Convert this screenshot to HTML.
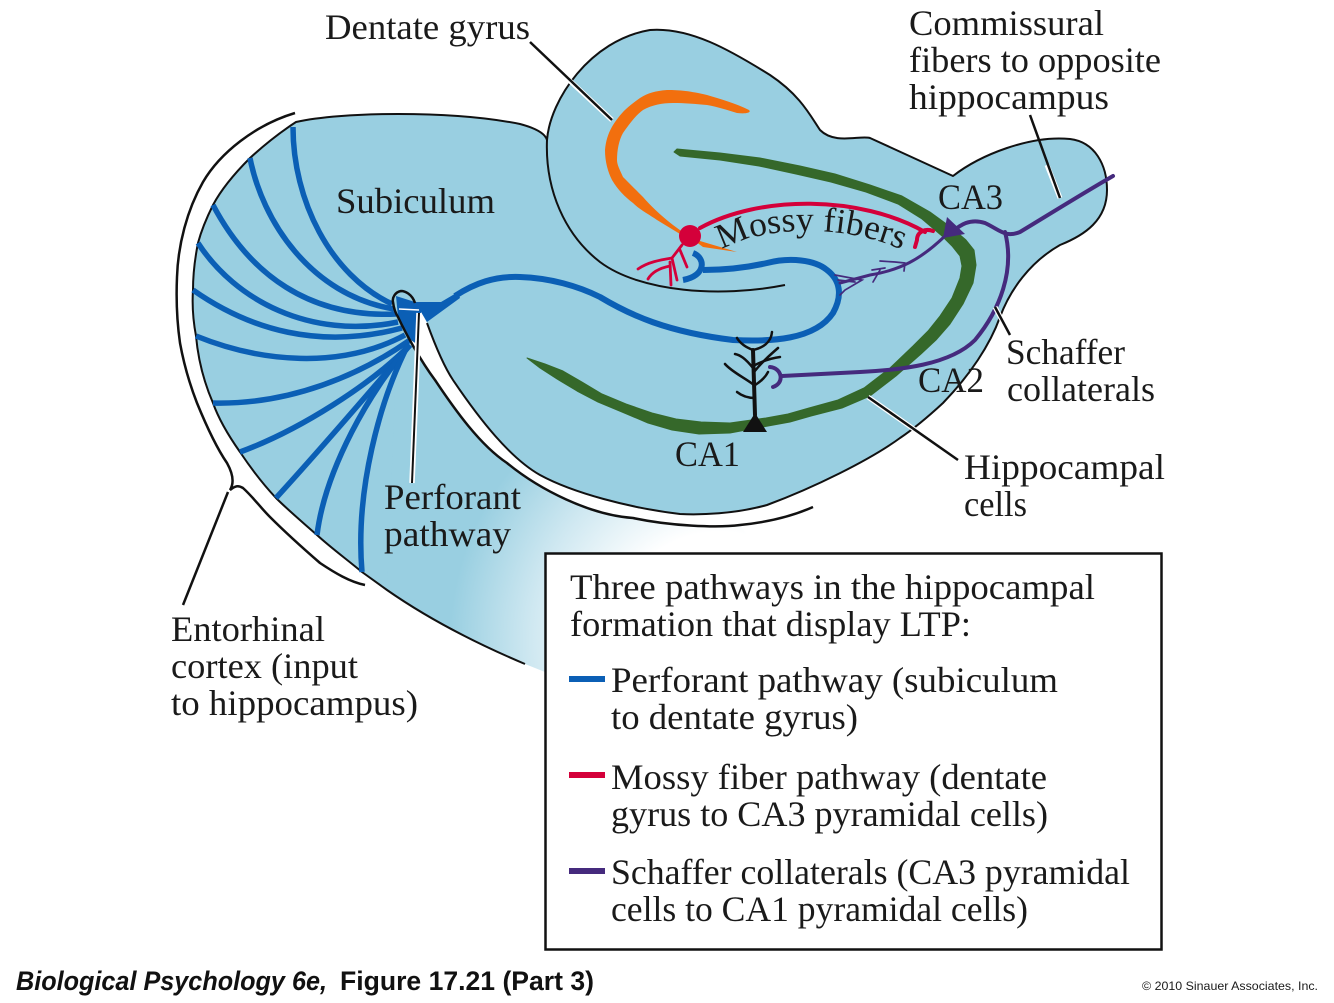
<!DOCTYPE html>
<html><head><meta charset="utf-8"><style>
html,body{margin:0;padding:0;background:#fff}
svg{display:block}
text{font-family:"Liberation Serif",serif;font-size:36px;fill:#1a1a1a}
.f{font-family:"Liberation Sans",sans-serif;font-weight:bold;font-size:27px;fill:#111}
</style></head><body>
<svg width="1334" height="1003" viewBox="0 0 1334 1003" xmlns="http://www.w3.org/2000/svg">
<defs><radialGradient id="g" gradientUnits="userSpaceOnUse" cx="720" cy="640" r="270"><stop offset="0.4" stop-color="#fff"/><stop offset="0.7" stop-color="#cfe8f1"/><stop offset="1" stop-color="#99cfe1"/></radialGradient></defs>
<rect width="1334" height="1003" fill="#fff"/>
<!-- lower region with fade -->
<path d="M398,317 C405,332 420,360 435,380 C455,410 480,445 507,463 C540,490 590,515 633,518 C670,526 717,528 740,525 L760,553 L545,553 L545,672 L525,664 C480,645 430,620 387,590 L350,560 Z" fill="url(#g)"/>
<!-- main body fill -->
<path d="M387,590 L362,572 C345,558 330,547 317,535 C300,520 288,510 276,498 C262,483 250,467 240,452 C228,435 219,420 213,403 C203,380 198,358 196,336 C193,320 192,305 193,290 C193,272 195,258 198,243 C202,228 207,217 213,205 C222,188 236,172 250,158 C262,147 276,135 296,122 C340,112 450,110 520,124 C535,128 545,133 547,140 C550,100 590,40 650,30 C690,27 730,50 770,75 C800,95 810,115 820,130 C835,145 860,135 870,138 L953,176 C980,155 1030,135 1070,139 C1095,142 1107,165 1107,190 C1107,220 1085,235 1060,245 C1030,262 1010,290 1000,317 C990,345 970,375 943,403 C930,415 915,428 900,438 C870,460 813,488 767,505 C735,514 700,515 680,514 C630,508 573,493 540,475 C510,458 480,420 453,380 C445,368 435,345 427,323 L417,303 L398,317 Z" fill="#99cfe1"/>
<!-- outline -->
<path d="M525,664 C480,645 430,620 387,590 L362,572 C345,558 330,547 317,535 C300,520 288,510 276,498 C262,483 250,467 240,452 C228,435 219,420 213,403 C203,380 198,358 196,336 C193,320 192,305 193,290 C193,272 195,258 198,243 C202,228 207,217 213,205 C222,188 236,172 250,158 C262,147 276,135 296,122 C340,112 450,110 520,124 C535,128 545,133 547,140 C550,100 590,40 650,30 C690,27 730,50 770,75 C800,95 810,115 820,130 C835,145 860,135 870,138 L953,176 C980,155 1030,135 1070,139 C1095,142 1107,165 1107,190 C1107,220 1085,235 1060,245 C1030,262 1010,290 1000,317 C990,345 970,375 943,403 C930,415 915,428 900,438 C870,460 813,488 767,505 C735,514 700,515 680,514 C630,508 573,493 540,475 C510,458 480,420 453,380 C445,368 435,345 427,323" fill="none" stroke="#111" stroke-width="2" stroke-linejoin="round"/>
<!-- inner dentate contour -->
<path d="M547,140 C545,190 565,235 600,262 C640,292 720,298 785,285" fill="none" stroke="#111" stroke-width="2"/>
<!-- brace -->
<path d="M295,113 C255,125 220,153 203,182 C187,210 178,245 177,277 C176,300 177,322 180,343 C184,365 190,385 197,403 C206,425 216,447 227,463 C232,472 235,482 230,490 C235,486 238,485 243,488 C253,497 260,507 270,517 C285,532 305,550 320,563 C335,573 350,582 365,585" fill="none" stroke="#111" stroke-width="2.5"/>
<!-- blue fibres -->
<g fill="none" stroke="#0b5fb5" stroke-width="5.5">
<path d="M293,127 C293,200 330,275 392,304"/>
<path d="M250,158 C262,220 310,295 394,309"/>
<path d="M213,205 C250,275 310,318 396,314"/>
<path d="M198,243 C235,300 310,340 398,322"/>
<path d="M193,290 C250,330 320,350 402,328"/>
<path d="M196,336 C260,362 340,370 405,335"/>
<path d="M213,403 C290,405 360,375 410,340"/>
<path d="M240,452 C300,430 370,385 410,345"/>
<path d="M276,498 C320,450 380,380 410,345"/>
<path d="M317,535 C325,470 370,390 410,345"/>
<path d="M362,572 C355,490 380,400 408,345"/>
<path d="M455,296 C475,283 495,276 520,277 C550,278 578,286 600,297 C630,315 667,332 733,340 C770,342 815,340 833,313 C843,295 840,280 827,270 C815,260 790,257 767,263 C745,268 725,270 703,270" stroke-width="6"/>
<path d="M693,253 C706,258 706,276 683,280" stroke-width="6"/>
</g>
<path d="M396,296 L415,302 L441,302 L458,292 L460,298 L427,322 L421,312 L418,345 L408,338 L398,317 Z" fill="#0b5fb5"/>
<path d="M399,309 L419,310" stroke="#fff" stroke-width="1.5"/>
<!-- lower contour + loop -->
<path d="M415,303 C412,294 405,291 401,291 C395,292 392,298 393,302 C394,310 396,314 398,317 C405,332 420,360 435,380 C455,410 480,445 507,463 C540,490 590,515 633,518 C670,526 717,528 740,525 C770,522 795,515 813,507" fill="none" stroke="#111" stroke-width="2.5"/>
<path d="M412,483 L419,313" stroke="#fff" stroke-width="5.5"/>
<path d="M412,483 L419,313" stroke="#111" stroke-width="2"/>
<!-- orange -->
<path d="M749,110 C735,103 720,99 707,95 C690,91 680,90 667,90 C655,91 648,93 640,98 C630,105 624,110 618,118 C610,128 606,138 605,150 C605,162 608,172 612,180 C618,190 625,197 633,203 C640,210 650,215 657,220 L680,234 L700,241 L737,252 L703,247 L673,225 C660,215 650,205 643,197 C633,187 628,182 623,177 C620,170 617,165 617,160 C617,150 619,140 623,133 C630,123 636,115 643,110 C652,105 662,103 673,103 C685,103 695,104 707,105 C718,107 727,110 737,113 C745,114 752,113 749,110 Z" fill="#f26f0e"/>
<!-- green -->
<polygon points="677,149 720,153 760,158 800,166 835,174 870,185 902,196 930,212 952,228 966,240 974,250 976,265 973,283 963,304 950,324 936,340 921,354 896,376 870,396 842,408 811,416 790,422 768,426 730,433 699,434 672,430 648,423 622,412 598,402 577,391 557,379 540,368 527,358 545,364 563,371 582,382 602,394 626,404 652,413 676,419 701,422 730,423 766,418 788,414 809,408 838,400 864,388 890,368 913,346 928,331 940,316 952,298 960,278 962,266 960,256 952,246 942,236 922,219 898,204 866,192 831,182 796,174 759,166 720,160 680,156 674,152" fill="#35682a" stroke="#35682a" stroke-width="1" stroke-linejoin="round"/>
<!-- red -->
<g fill="none" stroke="#d4003a" stroke-linecap="round">
<path d="M700,228 C760,195 860,195 925,232" stroke-width="4"/>
<path d="M933,231 C925,228 917,232 917,240 L915,247" stroke-width="4"/>
<g stroke-width="2.8">
<path d="M682,245 L672,258 C660,260 648,262 638,269"/>
<path d="M672,258 L677,280"/>
<path d="M670,262 L671,285"/>
<path d="M670,266 C660,268 652,272 648,279"/>
<path d="M680,250 L687,267"/>
</g></g>
<circle cx="690" cy="236" r="11" fill="#d4003a"/>
<!-- purple -->
<g fill="none" stroke="#452a7d" stroke-linecap="round">
<path d="M1113,176 C1080,195 1040,220 1020,232 C1005,238 1000,230 985,223 C970,218 960,225 952,232" stroke-width="4"/>
<path d="M1005,232 C1015,270 1000,310 975,340 C950,365 900,370 860,372 L782,376" stroke-width="4"/>
<path d="M770,367 C782,368 785,383 773,387" stroke-width="4"/>
<path d="M945,236 C920,260 900,270 870,275 L840,283" stroke-width="3"/>
<g stroke-width="1.7">
<path d="M835,275 L862,280 L845,290 L840,295"/>
<path d="M838,280 L855,282"/>
<path d="M880,270 L873,282 M885,268 L872,270"/>
<path d="M905,263 L895,262 L880,261 M905,263 L904,271"/>
</g></g>
<path d="M947,217 L965,234 L943,238 Z" fill="#452a7d"/>
<!-- neuron -->
<path d="M743,432 L767,432 L755,413 Z" fill="#111"/>
<g fill="none" stroke="#111" stroke-linecap="round">
<path d="M755,415 L753,350" stroke-width="4"/>
<g stroke-width="2.5">
<path d="M753,350 C745,347 740,343 737,338"/>
<path d="M753,350 C762,348 771,343 772,332"/>
<path d="M753,368 C745,358 740,355 735,354"/>
<path d="M754,372 C762,362 770,355 778,348"/>
<path d="M755,365 C765,360 772,358 780,357"/>
<path d="M754,385 C745,378 732,372 725,364"/>
<path d="M755,385 C760,382 765,378 768,372"/>
<path d="M755,398 C748,398 742,396 737,392"/>
</g></g>
<!-- pointers -->
<g stroke="#fff" stroke-width="5" fill="none">
<path d="M556,68 L612,120"/>
<path d="M1047,165 L1060,198"/>
<path d="M995,307 L1003,322"/>
<path d="M868,397 L925,437"/>
</g>
<g stroke="#111" stroke-width="2.5" fill="none">
<path d="M530,42 L612,120"/>
<path d="M1030,115 L1060,198"/>
<path d="M995,307 L1010,335"/>
<path d="M868,397 L958,460"/>
<path d="M228,492 L183,605"/>
</g>
<!-- labels -->
<text x="325" y="39" textLength="205" lengthAdjust="spacingAndGlyphs">Dentate gyrus</text>
<text x="909" y="35" textLength="195" lengthAdjust="spacingAndGlyphs">Commissural</text>
<text x="909" y="72" textLength="252" lengthAdjust="spacingAndGlyphs">fibers to opposite</text>
<text x="909" y="109" textLength="200" lengthAdjust="spacingAndGlyphs">hippocampus</text>
<text x="336" y="213" textLength="159" lengthAdjust="spacingAndGlyphs">Subiculum</text>
<text x="938" y="209" textLength="65" lengthAdjust="spacingAndGlyphs">CA3</text>
<text x="918" y="392" textLength="66" lengthAdjust="spacingAndGlyphs">CA2</text>
<text x="675" y="466" textLength="65" lengthAdjust="spacingAndGlyphs">CA1</text>
<text x="1006" y="364" textLength="119" lengthAdjust="spacingAndGlyphs">Schaffer</text>
<text x="1007" y="401" textLength="148" lengthAdjust="spacingAndGlyphs">collaterals</text>
<text x="964" y="479" textLength="201" lengthAdjust="spacingAndGlyphs">Hippocampal</text>
<text x="964" y="516" textLength="63" lengthAdjust="spacingAndGlyphs">cells</text>
<text x="384" y="509" textLength="137" lengthAdjust="spacingAndGlyphs">Perforant</text>
<text x="384" y="546" textLength="127" lengthAdjust="spacingAndGlyphs">pathway</text>
<text x="171" y="641" textLength="154" lengthAdjust="spacingAndGlyphs">Entorhinal</text>
<text x="171" y="678" textLength="187" lengthAdjust="spacingAndGlyphs">cortex (input</text>
<text x="171" y="715" textLength="247" lengthAdjust="spacingAndGlyphs">to hippocampus)</text>
<path id="mf" d="M722,250 C762,225 850,223 908,253" fill="none"/>
<text style="font-size:35px"><textPath href="#mf" textLength="185" lengthAdjust="spacingAndGlyphs">Mossy fibers</textPath></text>
<!-- legend -->
<rect x="545.5" y="553.5" width="616" height="396" fill="#fff" stroke="#111" stroke-width="2.5"/>
<text x="570" y="599" textLength="525" lengthAdjust="spacingAndGlyphs">Three pathways in the hippocampal</text>
<text x="570" y="636" textLength="401" lengthAdjust="spacingAndGlyphs">formation that display LTP:</text>
<text x="611" y="692" textLength="447" lengthAdjust="spacingAndGlyphs">Perforant pathway (subiculum</text>
<text x="611" y="729" textLength="247" lengthAdjust="spacingAndGlyphs">to dentate gyrus)</text>
<text x="611" y="789" textLength="436" lengthAdjust="spacingAndGlyphs">Mossy fiber pathway (dentate</text>
<text x="611" y="826" textLength="437" lengthAdjust="spacingAndGlyphs">gyrus to CA3 pyramidal cells)</text>
<text x="611" y="884" textLength="519" lengthAdjust="spacingAndGlyphs">Schaffer collaterals (CA3 pyramidal</text>
<text x="611" y="921" textLength="417" lengthAdjust="spacingAndGlyphs">cells to CA1 pyramidal cells)</text>
<rect x="569" y="676" width="36" height="6" fill="#0b5fb5"/>
<rect x="569" y="772" width="36" height="6" fill="#d4003a"/>
<rect x="569" y="868" width="36" height="6" fill="#452a7d"/>
<!-- footer -->
<text class="f" x="16" y="990" font-style="italic" textLength="311" lengthAdjust="spacingAndGlyphs">Biological Psychology 6e,</text>
<text class="f" x="340" y="990" textLength="254" lengthAdjust="spacingAndGlyphs">Figure 17.21 (Part 3)</text>
<text x="1142" y="990" textLength="176" lengthAdjust="spacingAndGlyphs" style="font-family:'Liberation Sans',sans-serif;font-size:12px">© 2010 Sinauer Associates, Inc.</text>
</svg>
</body></html>
